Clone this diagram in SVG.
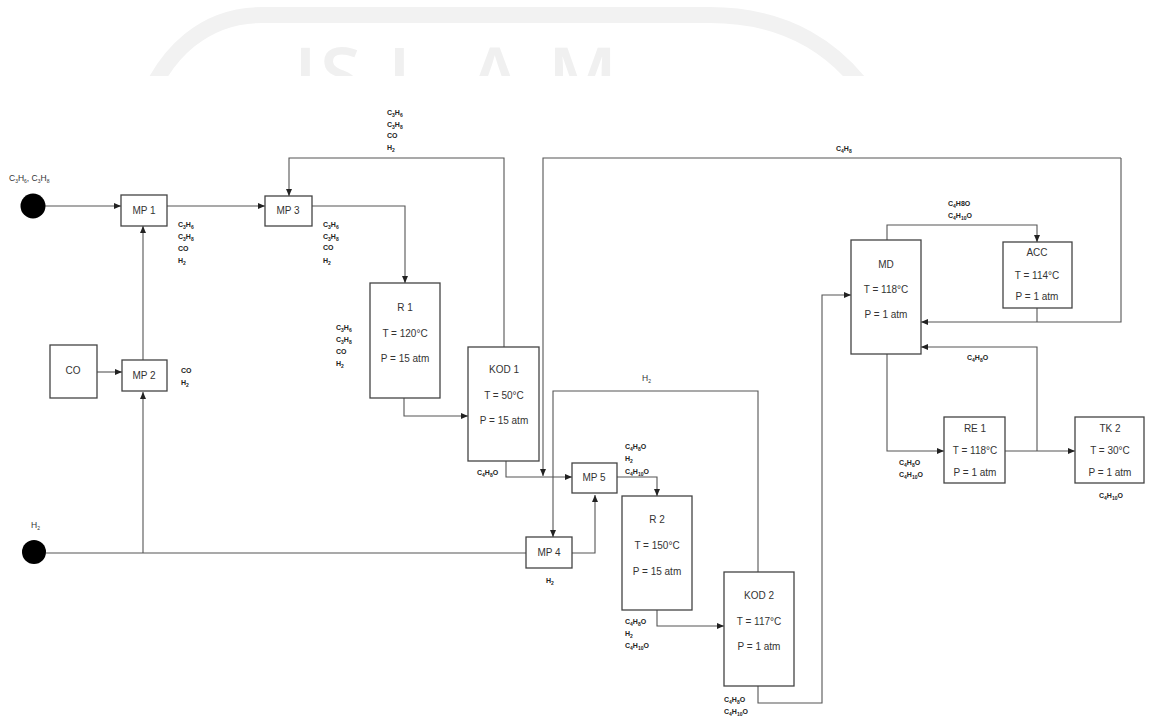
<svg xmlns="http://www.w3.org/2000/svg" width="1152" height="720" viewBox="0 0 1152 720">
<defs>
<style>
.box{fill:#fff;stroke:#444;stroke-width:1.3}
.t{font-family:"Liberation Sans",Arial,sans-serif;font-size:10px;fill:#333;text-anchor:middle}
.f{font-family:"Liberation Sans",Arial,sans-serif;font-size:7px;font-weight:bold;fill:#222}
.r{font-family:"Liberation Sans",Arial,sans-serif;font-size:8.5px;fill:#333}
.s{font-size:5px}
.ln{fill:none;stroke:#555;stroke-width:1.1}
.wm{font-family:"Open Sans","Liberation Sans",sans-serif;font-size:75px;font-weight:600;fill:#f0f0f0}
</style>
<marker id="a" markerWidth="8" markerHeight="8" refX="7" refY="4" orient="auto" markerUnits="userSpaceOnUse"><path d="M0,1 L7,4 L0,7 z" fill="#222"/></marker>
<clipPath id="wc"><rect x="0" y="0" width="1152" height="76"/></clipPath>
</defs>
<rect width="1152" height="720" fill="#fff"/>
<g id="watermark" clip-path="url(#wc)">
<path d="M145,105 C165,52 205,15 262,15 L710,15 C785,15 840,48 875,105" fill="none" stroke="#f2f2f2" stroke-width="16"/>
<text class="wm" x="294" y="101">I</text>
<text class="wm" x="320" y="101">S</text>
<text class="wm" x="388" y="101">L</text>
<text class="wm" x="470" y="101">A</text>
<text class="wm" x="548" y="101">M</text>
</g>
<g id="connectors">
<path class="ln" d="M45,206 H121" marker-end="url(#a)"/>
<path class="ln" d="M167,206 H265" marker-end="url(#a)"/>
<path class="ln" d="M312,206 H405 V283" marker-end="url(#a)"/>
<path class="ln" d="M504,347 V158 H289 V196" marker-end="url(#a)"/>
<path class="ln" d="M404,398 V416 H468" marker-end="url(#a)"/>
<path class="ln" d="M506,461 V477 H572" marker-end="url(#a)"/>
<path class="ln" d="M1121,158 H543 V476" marker-end="url(#a)"/>
<path class="ln" d="M1121,158 V322 H921" marker-end="url(#a)"/>
<path class="ln" d="M1037,308 V322"/>
<path class="ln" d="M97,372 H122" marker-end="url(#a)"/>
<path class="ln" d="M143,360 V226" marker-end="url(#a)"/>
<path class="ln" d="M46,553 H526"/>
<path class="ln" d="M143,553 V392" marker-end="url(#a)"/>
<path class="ln" d="M572,553 H595 V495" marker-end="url(#a)"/>
<path class="ln" d="M758,572 V391 H553 V537" marker-end="url(#a)"/>
<path class="ln" d="M617,477 H657 V496" marker-end="url(#a)"/>
<path class="ln" d="M657,610 V626 H724" marker-end="url(#a)"/>
<path class="ln" d="M758,686 V703 H822 V295 H851" marker-end="url(#a)"/>
<path class="ln" d="M887,240 V225 H1037 V242" marker-end="url(#a)"/>
<path class="ln" d="M887,354 V451 H944" marker-end="url(#a)"/>
<path class="ln" d="M1005,451 H1075" marker-end="url(#a)"/>
<path class="ln" d="M1037,451 V347 H921" marker-end="url(#a)"/>
</g>
<g id="feed1">
<circle cx="33" cy="206" r="12.5" fill="#000"/>
<text class="r" x="9" y="181">C<tspan class="s" dy="1.5">3</tspan><tspan dy="-1.5">H</tspan><tspan class="s" dy="1.5">6</tspan><tspan dy="-1.5">, C</tspan><tspan class="s" dy="1.5">3</tspan><tspan dy="-1.5">H</tspan><tspan class="s" dy="1.5">8</tspan></text>
</g>
<g id="feed2">
<circle cx="34" cy="552" r="12" fill="#000"/>
<text class="r" x="31" y="528" font-size="8">H<tspan class="s" dy="1.5">2</tspan></text>
</g>
<g id="MP1"><rect class="box" x="121" y="195" width="46" height="31"/><text class="t" x="144" y="214">MP  1</text></g>
<g id="MP3"><rect class="box" x="265" y="196" width="47" height="30"/><text class="t" x="288" y="214">MP  3</text></g>
<g id="CO"><rect class="box" x="50" y="345" width="47" height="53"/><text class="t" x="73" y="374">CO</text></g>
<g id="MP2"><rect class="box" x="122" y="360" width="45" height="31"/><text class="t" x="144" y="379">MP 2</text></g>
<g id="R1"><rect class="box" x="370" y="283" width="70" height="115"/>
<text class="t" x="405" y="311">R 1</text><text class="t" x="405" y="337">T = 120°C</text><text class="t" x="405" y="362">P = 15 atm</text></g>
<g id="KOD1"><rect class="box" x="468" y="347" width="71" height="114"/>
<text class="t" x="504" y="373">KOD 1</text><text class="t" x="504" y="399">T = 50°C</text><text class="t" x="504" y="424">P = 15 atm</text></g>
<g id="MP5"><rect class="box" x="572" y="463" width="45" height="30"/><text class="t" x="594" y="481">MP  5</text></g>
<g id="MP4"><rect class="box" x="526" y="537" width="46" height="31"/><text class="t" x="549" y="556">MP  4</text></g>
<g id="R2"><rect class="box" x="622" y="496" width="70" height="114"/>
<text class="t" x="657" y="523">R 2</text><text class="t" x="657" y="549">T = 150°C</text><text class="t" x="657" y="575">P = 15 atm</text></g>
<g id="KOD2"><rect class="box" x="724" y="572" width="70" height="114"/>
<text class="t" x="759" y="599">KOD 2</text><text class="t" x="759" y="625">T = 117°C</text><text class="t" x="759" y="650">P = 1 atm</text></g>
<g id="MD"><rect class="box" x="851" y="240" width="70" height="114"/>
<text class="t" x="886" y="268">MD</text><text class="t" x="886" y="293">T = 118°C</text><text class="t" x="886" y="318">P = 1 atm</text></g>
<g id="ACC"><rect class="box" x="1003" y="242" width="69" height="66"/>
<text class="t" x="1037" y="256">ACC</text><text class="t" x="1037" y="279">T = 114°C</text><text class="t" x="1037" y="300">P = 1 atm</text></g>
<g id="RE1"><rect class="box" x="944" y="417" width="61" height="66"/>
<text class="t" x="975" y="432">RE 1</text><text class="t" x="975" y="454">T = 118°C</text><text class="t" x="975" y="476">P = 1 atm</text></g>
<g id="TK2"><rect class="box" x="1075" y="417" width="69" height="66"/>
<text class="t" x="1110" y="432">TK 2</text><text class="t" x="1110" y="454">T = 30°C</text><text class="t" x="1110" y="476">P = 1 atm</text></g>
<g id="labels">
<text class="f" x="178" y="227">C<tspan class="s" dy="1.5">3</tspan><tspan dy="-1.5">H</tspan><tspan class="s" dy="1.5">6</tspan></text>
<text class="f" x="178" y="239">C<tspan class="s" dy="1.5">3</tspan><tspan dy="-1.5">H</tspan><tspan class="s" dy="1.5">8</tspan></text>
<text class="f" x="178" y="251">CO</text>
<text class="f" x="178" y="263">H<tspan class="s" dy="1.5">2</tspan></text>
<text class="f" x="387" y="115">C<tspan class="s" dy="1.5">3</tspan><tspan dy="-1.5">H</tspan><tspan class="s" dy="1.5">6</tspan></text>
<text class="f" x="387" y="127">C<tspan class="s" dy="1.5">3</tspan><tspan dy="-1.5">H</tspan><tspan class="s" dy="1.5">8</tspan></text>
<text class="f" x="387" y="138">CO</text>
<text class="f" x="387" y="150">H<tspan class="s" dy="1.5">2</tspan></text>
<text class="f" x="323" y="227">C<tspan class="s" dy="1.5">3</tspan><tspan dy="-1.5">H</tspan><tspan class="s" dy="1.5">6</tspan></text>
<text class="f" x="323" y="239">C<tspan class="s" dy="1.5">3</tspan><tspan dy="-1.5">H</tspan><tspan class="s" dy="1.5">8</tspan></text>
<text class="f" x="323" y="250">CO</text>
<text class="f" x="323" y="263">H<tspan class="s" dy="1.5">2</tspan></text>
<text class="f" x="336" y="330">C<tspan class="s" dy="1.5">3</tspan><tspan dy="-1.5">H</tspan><tspan class="s" dy="1.5">6</tspan></text>
<text class="f" x="336" y="342">C<tspan class="s" dy="1.5">3</tspan><tspan dy="-1.5">H</tspan><tspan class="s" dy="1.5">8</tspan></text>
<text class="f" x="336" y="354">CO</text>
<text class="f" x="336" y="366">H<tspan class="s" dy="1.5">2</tspan></text>
<text class="f" x="181" y="373">CO</text>
<text class="f" x="181" y="385">H<tspan class="s" dy="1.5">2</tspan></text>
<text class="f" x="477" y="475">C<tspan class="s" dy="1.5">4</tspan><tspan dy="-1.5">H</tspan><tspan class="s" dy="1.5">8</tspan><tspan dy="-1.5">O</tspan></text>
<text class="f" x="836" y="151">C<tspan class="s" dy="1.5">4</tspan><tspan dy="-1.5">H</tspan><tspan class="s" dy="1.5">8</tspan></text>
<text class="r" x="642" y="381" font-size="7.5">H<tspan class="s" dy="1.5">2</tspan></text>
<text class="f" x="625" y="449">C<tspan class="s" dy="1.5">4</tspan><tspan dy="-1.5">H</tspan><tspan class="s" dy="1.5">8</tspan><tspan dy="-1.5">O</tspan></text>
<text class="f" x="625" y="461">H<tspan class="s" dy="1.5">2</tspan></text>
<text class="f" x="625" y="474">C<tspan class="s" dy="1.5">4</tspan><tspan dy="-1.5">H</tspan><tspan class="s" dy="1.5">10</tspan><tspan dy="-1.5">O</tspan></text>
<text class="f" x="546" y="583">H<tspan class="s" dy="1.5">2</tspan></text>
<text class="f" x="625" y="624">C<tspan class="s" dy="1.5">4</tspan><tspan dy="-1.5">H</tspan><tspan class="s" dy="1.5">8</tspan><tspan dy="-1.5">O</tspan></text>
<text class="f" x="625" y="636">H<tspan class="s" dy="1.5">2</tspan></text>
<text class="f" x="625" y="648">C<tspan class="s" dy="1.5">4</tspan><tspan dy="-1.5">H</tspan><tspan class="s" dy="1.5">10</tspan><tspan dy="-1.5">O</tspan></text>
<text class="f" x="724" y="702">C<tspan class="s" dy="1.5">4</tspan><tspan dy="-1.5">H</tspan><tspan class="s" dy="1.5">8</tspan><tspan dy="-1.5">O</tspan></text>
<text class="f" x="724" y="714">C<tspan class="s" dy="1.5">4</tspan><tspan dy="-1.5">H</tspan><tspan class="s" dy="1.5">10</tspan><tspan dy="-1.5">O</tspan></text>
<text class="f" x="948" y="206">C<tspan class="s" dy="1.5">4</tspan><tspan dy="-1.5">H8O</tspan></text>
<text class="f" x="948" y="218">C<tspan class="s" dy="1.5">4</tspan><tspan dy="-1.5">H</tspan><tspan class="s" dy="1.5">10</tspan><tspan dy="-1.5">O</tspan></text>
<text class="f" x="967" y="360">C<tspan class="s" dy="1.5">4</tspan><tspan dy="-1.5">H</tspan><tspan class="s" dy="1.5">8</tspan><tspan dy="-1.5">O</tspan></text>
<text class="f" x="899" y="465">C<tspan class="s" dy="1.5">4</tspan><tspan dy="-1.5">H</tspan><tspan class="s" dy="1.5">8</tspan><tspan dy="-1.5">O</tspan></text>
<text class="f" x="899" y="477">C<tspan class="s" dy="1.5">4</tspan><tspan dy="-1.5">H</tspan><tspan class="s" dy="1.5">10</tspan><tspan dy="-1.5">O</tspan></text>
<text class="f" x="1099" y="498">C<tspan class="s" dy="1.5">4</tspan><tspan dy="-1.5">H</tspan><tspan class="s" dy="1.5">10</tspan><tspan dy="-1.5">O</tspan></text>
</g>
</svg>
